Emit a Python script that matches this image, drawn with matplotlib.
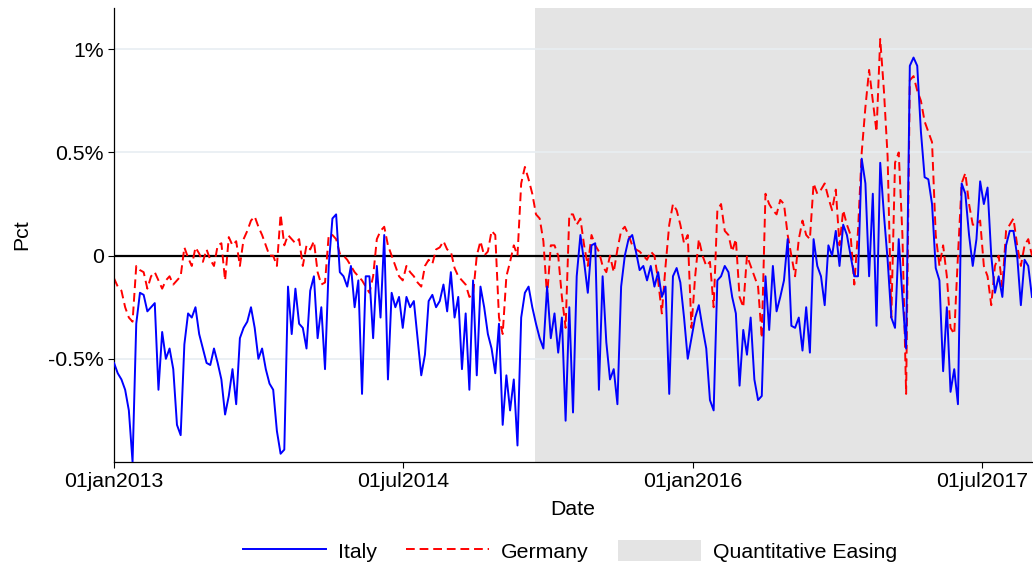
import matplotlib
matplotlib.use("Agg")
import matplotlib.pyplot as plt
from matplotlib.lines import Line2D
from matplotlib.patches import Patch
import pandas as pd

# Weekly observations starting 01jan2013 (values in percent)
start_date = "2013-01-01"
italy = [
    -0.52, -0.57, -0.6, -0.65, -0.75, -1.0, -0.33, -0.18, -0.19, -0.27, -0.25, -0.23, -0.65, -0.37, -0.5,
    -0.45, -0.55, -0.82, -0.87, -0.43, -0.28, -0.3, -0.25, -0.38, -0.45, -0.52, -0.53, -0.45, -0.52, -0.6,
    -0.77, -0.68, -0.55, -0.72, -0.4, -0.35, -0.32, -0.25, -0.35, -0.5, -0.45, -0.55, -0.62,
    -0.65, -0.85, -0.96, -0.94, -0.15, -0.38, -0.16, -0.33, -0.35, -0.45, -0.17, -0.1, -0.4, -0.25, -0.55,
    -0.05, 0.18, 0.2, -0.08, -0.1, -0.15, -0.05, -0.25, -0.12, -0.67, -0.1, -0.1, -0.4, -0.05, -0.3, 0.1,
    -0.6, -0.18, -0.25, -0.2, -0.35, -0.2, -0.25, -0.22, -0.4,
    -0.58, -0.48, -0.22, -0.19, -0.25, -0.22, -0.14, -0.27, -0.08, -0.3, -0.2, -0.55, -0.28, -0.65, -0.12,
    -0.58, -0.15, -0.25, -0.38, -0.45, -0.57, -0.33, -0.82, -0.58, -0.75, -0.6, -0.92, -0.3, -0.18, -0.15,
    -0.25, -0.33, -0.4, -0.45, -0.15, -0.4, -0.28, -0.47, -0.3, -0.8, -0.25,
    -0.76, -0.1, 0.1, -0.03, -0.18, 0.05, 0.06, -0.65, -0.1, -0.42, -0.6, -0.55, -0.72, -0.15, 0.0, 0.08,
    0.1, 0.02, -0.07, -0.05, -0.12, -0.05, -0.15, -0.08, -0.2, -0.15, -0.67, -0.1, -0.06, -0.13, -0.3, -0.5,
    -0.4, -0.3, -0.24, -0.35, -0.45, -0.7, -0.75, -0.12, -0.1,
    -0.05, -0.08, -0.2, -0.28, -0.63, -0.36, -0.48, -0.3, -0.6, -0.7, -0.68, -0.1, -0.36, -0.05, -0.27,
    -0.2, -0.12, 0.08, -0.34, -0.35, -0.3, -0.46, -0.25, -0.47, 0.08, -0.05, -0.1, -0.24, 0.05, 0.0, 0.12,
    -0.05, 0.15, 0.1, 0.0, -0.1, -0.1, 0.47, 0.35, -0.1,
    0.3, -0.34, 0.45, 0.2, -0.02, -0.3, -0.35, 0.08, -0.2, -0.45, 0.92, 0.96, 0.92, 0.6, 0.38, 0.37, 0.25,
    -0.06, -0.12, -0.56, -0.25, -0.66, -0.55, -0.72, 0.35, 0.3, 0.1, -0.05, 0.08, 0.36, 0.25, 0.33, 0.0,
    -0.18, -0.1, -0.2, 0.05, 0.12, 0.12, 0.0, -0.24, -0.02, -0.05, -0.2,
]
germany = [
    -0.11, -0.15, -0.17, -0.25, -0.3, -0.32, -0.05, -0.07, -0.08, -0.16, -0.1, -0.08, -0.12, -0.16, -0.12,
    -0.1, -0.14, -0.12, -0.1, 0.04, -0.01, -0.05, 0.04, 0.01, -0.03, 0.03, -0.02, -0.05, 0.05, 0.06, -0.12,
    0.09, 0.05, 0.07, -0.05, 0.08, 0.12, 0.17, 0.19, 0.14, 0.1, 0.05, 0.0,
    0.0, -0.05, 0.2, 0.05, 0.1, 0.08, 0.06, 0.08, -0.05, 0.05, 0.03, 0.07, -0.08, -0.14, -0.13, 0.1, 0.1,
    0.08, 0.01, 0.0, -0.02, -0.05, -0.08, -0.1, -0.12, -0.15, -0.18, -0.1, 0.08, 0.12, 0.14, 0.05, 0.0,
    -0.05, -0.1, -0.12, -0.05, -0.08, -0.1, -0.13,
    -0.15, -0.05, -0.02, -0.04, 0.03, 0.04, 0.07, 0.03, 0.02, -0.06, -0.1, -0.12, -0.14, -0.2, -0.19, 0.0,
    0.07, 0.0, 0.02, 0.12, 0.1, -0.3, -0.38, -0.1, -0.03, 0.05, 0.0, 0.35, 0.43, 0.37, 0.3, 0.2, 0.18, 0.07,
    -0.2, 0.05, 0.05, 0.0, -0.2, -0.35, 0.2,
    0.2, 0.15, 0.18, 0.05, -0.05, 0.1, 0.05, 0.02, -0.05, -0.08, 0.0, -0.08, 0.03, 0.12, 0.14, 0.1, 0.05,
    0.03, 0.02, 0.0, -0.02, 0.02, 0.0, -0.12, -0.28, -0.05, 0.15, 0.25, 0.22, 0.15, 0.06, 0.1, -0.35, -0.1,
    0.08, 0.0, -0.05, -0.03, -0.25, 0.22, 0.25,
    0.12, 0.1, 0.02, 0.08, -0.2, -0.25, 0.0, -0.05, -0.1, -0.15, -0.4, 0.3, 0.25, 0.22, 0.2, 0.27, 0.25,
    0.1, 0.0, -0.1, 0.08, 0.17, 0.1, 0.08, 0.35, 0.3, 0.32, 0.35, 0.28, 0.22, 0.32, 0.05, 0.22, 0.15, 0.1,
    -0.14, 0.12, 0.5, 0.72, 0.9,
    0.75, 0.6, 1.05, 0.8, 0.48, -0.3, 0.45, 0.5, 0.1, -0.67, 0.85, 0.87, 0.8, 0.75, 0.65, 0.6, 0.55, 0.1,
    -0.05, 0.05, -0.1, -0.35, -0.38, 0.0, 0.35, 0.4, 0.25, 0.15, 0.15, 0.17, -0.05, -0.1, -0.24, -0.05,
    0.0, -0.15, 0.12, 0.15, 0.18, 0.05, -0.05, 0.05, 0.08, 0.0,
]
qe_start = "2015-03-09"
y_ticks = [-0.5, 0, 0.5, 1]
y_tick_labels = ["-0.5%", "0", "0.5%", "1%"]
x_ticks = ["2013-01-01", "2014-07-01", "2016-01-01", "2017-07-01"]
x_tick_labels = ["01jan2013", "01jul2014", "01jan2016", "01jul2017"]

dates = pd.date_range(start_date, periods=len(italy), freq="7D")

plt.rcParams["font.family"] = ["Liberation Sans", "DejaVu Sans"]
FS = 15.3

fig = plt.figure(figsize=(10.33, 5.65), dpi=100)
ax = fig.add_axes([0.1104, 0.1823, 0.8886, 0.8035])

ymin, ymax = -1.0, 1.2
ax.set_xlim(dates[0], dates[-1])
ax.set_ylim(ymin, ymax)

ax.axvspan(pd.Timestamp(qe_start), dates[-1], color="#e4e4e4", lw=0, zorder=0)
for yv in [-0.5, 0.5, 1.0]:
    ax.axhline(yv, color="#e8eef2", lw=1.2, zorder=0.5)
ax.axhline(0, color="black", lw=1.6, zorder=1)

ax.plot(dates, italy, color="#0000ff", lw=1.4, zorder=3)
ax.plot(dates, germany, color="#ff0000", lw=1.4, ls=(0, (4.5, 2.5)), zorder=2)

ax.set_yticks(y_ticks)
ax.set_yticklabels(y_tick_labels)
ax.set_xticks([pd.Timestamp(d) for d in x_ticks])
ax.set_xticklabels(x_tick_labels)
ax.tick_params(axis="both", labelsize=FS, length=4.5, width=0.8, direction="out", pad=3)

for s in ["top", "right"]:
    ax.spines[s].set_visible(False)
for s in ["left", "bottom"]:
    ax.spines[s].set_linewidth(0.9)

ax.set_ylabel("Pct", fontsize=FS, labelpad=12)
ax.set_xlabel("Date", fontsize=FS, labelpad=6)

handles = [
    Line2D([0], [0], color="#0000ff", lw=1.4),
    Line2D([0], [0], color="#ff0000", lw=1.4, ls=(0, (4.5, 2.5))),
    Patch(facecolor="#e4e4e4", edgecolor="none"),
]
fig.legend(handles, ["Italy", "Germany", "Quantitative Easing"], loc="lower center",
           bbox_to_anchor=(0.552, -0.028), ncol=3, frameon=False, fontsize=FS,
           handlelength=3.9, handleheight=1.2, columnspacing=1.4, handletextpad=0.55)

fig.savefig("out.png", dpi=100)
